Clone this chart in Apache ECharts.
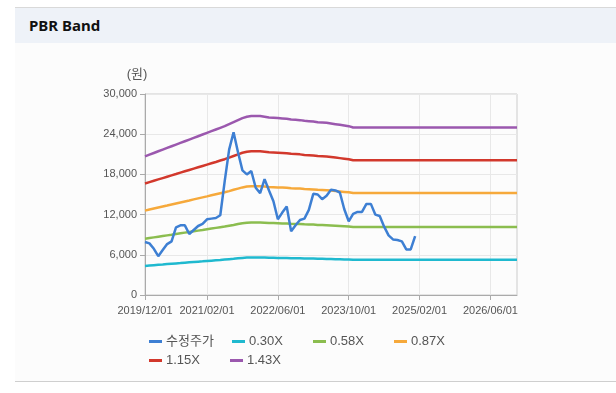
<!DOCTYPE html>
<html>
<head>
<meta charset="utf-8">
<script src="https://cdn.jsdelivr.net/npm/echarts@6/dist/echarts.min.js"></script>
<style>
  html, body { margin: 0; padding: 0; width: 616px; height: 393px; background: #ffffff; overflow: hidden; }
  #panel { position: absolute; left: 15px; top: 7px; width: 601px; height: 373px; background: #fcfcfc; border-top: 1px solid #d9d9d9; border-bottom: 1px solid #cfcfcf; }
  #head { position: absolute; left: 15px; top: 8px; width: 601px; height: 35px; background: #eef2f8; }
  #head span { position: absolute; left: 14px; top: 7px; font: bold 15px 'Noto Sans', 'Liberation Sans', sans-serif; color: #111; }
  #chart { position: absolute; left: 0; top: 0; width: 616px; height: 393px; }
</style>
</head>
<body>
<div id="panel"></div>
<div id="head"><span>PBR Band</span></div>
<div id="chart"></div>
<script>
// ---- data ----
const tickLabels = ['2019/12/01', '2021/02/01', '2022/06/01', '2023/10/01', '2025/02/01', '2026/06/01'];
const yTicks = [0, 6000, 12000, 18000, 24000, 30000];
const seriesNames = ['수정주가', '0.30X', '0.58X', '0.87X', '1.15X', '1.43X'];

// monthly categories 2019/12/01 .. 2026/12/01
const categories = [];
for (let y = 2019, m = 12; y < 2027; ) {
  categories.push(y + '/' + String(m).padStart(2, '0') + '/01');
  m++; if (m > 12) { m = 1; y++; }
  if (y === 2027) break;
}

// adjusted price, monthly from 2019/12 to 2025/01
const price = [7900, 7700, 6900, 5800, 6700, 7600, 8000, 10100, 10400, 10400,
  9100, 9700, 10300, 10600, 11300, 11400, 11500, 11900, 17000, 21700,
  24300, 21300, 18600, 18000, 18500, 16000, 15200, 17300, 15600, 14000,
  11300, 12300, 13200, 9500, 10400, 11200, 11400, 12700, 15100, 15000,
  14300, 14800, 15700, 15600, 15300, 12800, 11000, 12100, 12400, 12400,
  13600, 13600, 12000, 11800, 10200, 8900, 8300, 8200, 8000, 6800,
  6800, 8800];

// band values: months 2019/12 .. 2023/11, then the end month 2026/12
const band030 = [4340,4400,4450,4500,4550,4610,4660,4710,4760,4820,4870,4920,4970,5020,5080,5130,5180,5230,5290,5350,5410,5480,5540,5580,5600,
  5600,5600,5580,5560,5550,5540,5530,5520,5500,5490,5480,5450,5440,5430,5410,5400,5390,5370,5350,5330,5310,5290,
  5250,5250];
const band058 = [8400,8500,8600,8700,8800,8900,9000,9110,9210,9310,9410,9510,9610,9710,9820,9920,10020,10120,10220,10340,10460,10590,10710,10790,10830,
  10830,10830,10790,10750,10730,10710,10690,10670,10630,10610,10590,10550,10530,10510,10460,10440,10420,10380,10340,10300,10260,10220,
  10140,10140];
const band087 = [12590,12750,12900,13050,13200,13350,13510,13660,13810,13960,14110,14270,14420,14570,14720,14880,15030,15180,15330,15510,15700,15880,16060,16180,16240,
  16240,16240,16180,16120,16090,16060,16030,16000,15940,15910,15880,15820,15790,15760,15700,15670,15640,15580,15510,15450,15390,15330,
  15210,15210];
const band115 = [16650,16850,17050,17250,17450,17650,17850,18050,18260,18460,18660,18860,19060,19260,19460,19660,19860,20070,20270,20510,20750,20990,21230,21390,21470,
  21470,21470,21390,21310,21270,21230,21190,21150,21070,21030,20990,20910,20870,20830,20750,20710,20670,20590,20510,20430,20350,20270,
  20110,20110];
const band143 = [20700,20950,21200,21450,21700,21950,22200,22450,22700,22950,23200,23450,23700,23950,24200,24450,24700,24950,25200,25500,25800,26100,26400,26600,26700,
  26700,26700,26600,26500,26450,26400,26350,26300,26200,26150,26100,26000,25950,25900,25800,25750,25700,25600,25500,25400,25300,25200,
  25000,25000];
const bandMonths = categories.slice(0, 48).concat([categories[categories.length - 1]]);

// ---- chart ----
const colors = ['#3d7fd3', '#1fb9cf', '#8bbd4f', '#f6a93b', '#d2382c', '#9b58ae'];
const FONT = "'Liberation Sans', Arial, 'Noto Sans CJK KR', sans-serif";
const chart = echarts.init(document.getElementById('chart'), null, { renderer: 'canvas' });

const pairs = arr => bandMonths.map((m, i) => [m, arr[i]]);
const isTick = (idx, val) => tickLabels.indexOf(categories[idx]) >= 0;

const bands = [band030, band058, band087, band115, band143];
const series = [{
  name: seriesNames[0], type: 'line', data: price, showSymbol: false, symbol: 'none',
  lineStyle: { width: 2.5, color: colors[0] }, itemStyle: { color: colors[0] }, z: 4
}].concat(bands.map((b, i) => ({
  name: seriesNames[i + 1], type: 'line', data: pairs(b), showSymbol: false, symbol: 'none',
  lineStyle: { width: 2.5, color: colors[i + 1] }, itemStyle: { color: colors[i + 1] }, z: 3
})));

const legendPos = [[149, 335], [232, 335], [313, 335], [394, 335], [149, 354], [230, 354]];
const legends = seriesNames.map((n, i) => ({
  data: [n], left: legendPos[i][0], top: legendPos[i][1], padding: 0,
  icon: 'rect', itemWidth: 13, itemHeight: 3, itemGap: 0,
  textStyle: { fontSize: 13, color: '#555', fontFamily: FONT, padding: [0, 0, 0, -1] },
  selectedMode: false
}));

chart.setOption({
  animation: false,
  backgroundColor: 'transparent',
  color: colors,
  grid: { left: 145, top: 94, width: 372, height: 201, show: true, borderColor: '#cccccc', borderWidth: 1, backgroundColor: 'transparent', containLabel: false },
  legend: legends,
  xAxis: {
    type: 'category', data: categories, boundaryGap: false,
    axisLine: { show: true, lineStyle: { color: '#aaaaaa' } },
    axisTick: { show: true, interval: isTick, length: 5, lineStyle: { color: '#aaaaaa' } },
    axisLabel: { interval: isTick, color: '#555', fontSize: 11, fontFamily: FONT, margin: 10, hideOverlap: false },
    splitLine: { show: true, interval: isTick, lineStyle: { color: '#e8e8e8' } }
  },
  yAxis: {
    type: 'value', min: yTicks[0], max: yTicks[yTicks.length - 1], interval: yTicks[1] - yTicks[0],
    name: '(원)', nameLocation: 'end', nameGap: 13,
    nameTextStyle: { color: '#555', fontSize: 13, fontFamily: FONT, align: 'center', padding: [0, 16, 0, 0] },
    axisLine: { show: true, lineStyle: { color: '#aaaaaa' } },
    axisTick: { show: true, length: 5, lineStyle: { color: '#aaaaaa' } },
    axisLabel: { color: '#555', fontSize: 11, fontFamily: FONT, margin: 8, formatter: v => v.toLocaleString('en-US') },
    splitLine: { show: true, lineStyle: { color: '#e8e8e8' } }
  },
  series: series
});
</script>
</body>
</html>
